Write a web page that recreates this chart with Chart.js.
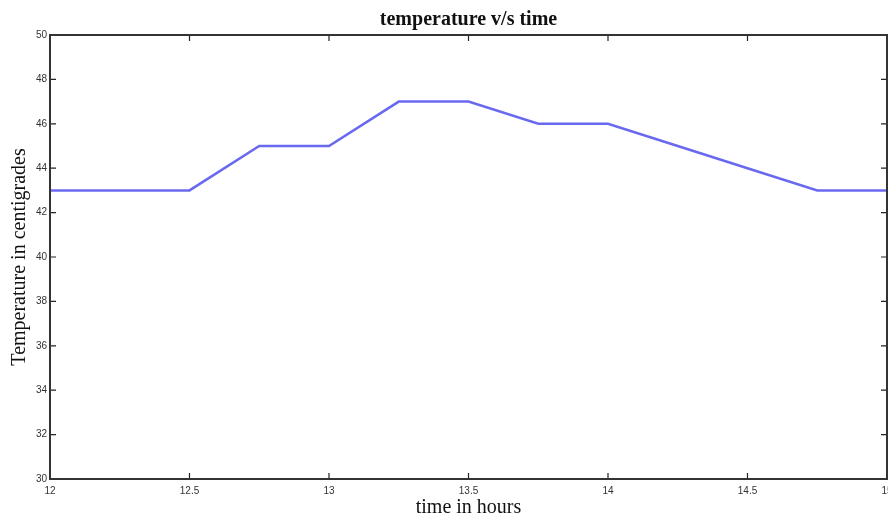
<!DOCTYPE html>
<html>
<head>
<meta charset="utf-8">
<script src="https://cdn.jsdelivr.net/npm/chart.js@4"></script>
<style>
  html, body { margin: 0; padding: 0; background: #fff; }
  #wrap { width: 888px; height: 517px; }
</style>
</head>
<body>
<div id="wrap"><canvas id="tempChart" width="888" height="517"></canvas></div>
<script>
// ── Data ────────────────────────────────────────────────────
const hours = [12, 12.25, 12.5, 12.75, 13, 13.25, 13.5, 13.75, 14, 14.25, 14.5, 14.75, 15];
const temps = [43, 43,    43,   45,    45, 47,    47,   46,    46, 45,    44,   43,    43];

const xTicks = [12, 12.5, 13, 13.5, 14, 14.5, 15];
const yTicks = [30, 32, 34, 36, 38, 40, 42, 44, 46, 48, 50];

// Box round the plot plus inward tick marks (MATLAB style)
const boxPlugin = {
  id: 'box',
  afterDatasetsDraw(chart) {
    const { ctx, chartArea: a, scales: { x, y } } = chart;
    const len = 6;
    ctx.save();
    ctx.strokeStyle = '#222';
    ctx.lineWidth = 1.2;
    ctx.beginPath();
    xTicks.forEach(v => {
      const px = x.getPixelForValue(v);
      ctx.moveTo(px, a.bottom); ctx.lineTo(px, a.bottom - len);
      ctx.moveTo(px, a.top);    ctx.lineTo(px, a.top + len);
    });
    yTicks.forEach(v => {
      const py = y.getPixelForValue(v);
      ctx.moveTo(a.left, py);  ctx.lineTo(a.left + len, py);
      ctx.moveTo(a.right, py); ctx.lineTo(a.right - len, py);
    });
    ctx.stroke();
    ctx.lineWidth = 2;
    ctx.strokeStyle = '#333';
    ctx.strokeRect(a.left, a.top, a.right - a.left, a.bottom - a.top);
    ctx.restore();
  }
};

const noGrid = { display: true, drawOnChartArea: false, drawTicks: false };

new Chart(document.getElementById('tempChart'), {
  type: 'line',
  data: {
    datasets: [{
      data: hours.map((h, i) => ({ x: h, y: temps[i] })),
      borderColor: 'rgb(105,105,240)',
      borderWidth: 2.5,
      pointRadius: 0,
      tension: 0,
      fill: false
    }]
  },
  options: {
    responsive: false,
    animation: false,
    layout: { padding: { left: 0, right: 1, top: 0, bottom: 0 } },
    plugins: {
      legend: { display: false },
      tooltip: { enabled: false },
      title: {
        display: true,
        fullSize: false,   // centre over the plot, not the canvas
        text: 'temperature v/s time',
        color: '#111',
        font: { family: 'Liberation Serif', size: 20, weight: 'bold' },
        padding: { top: 8, bottom: 3 }
      }
    },
    scales: {
      x: {
        type: 'linear',
        min: 12, max: 15,
        grid: noGrid,
        border: { display: false },
        afterBuildTicks: s => { s.ticks = xTicks.map(v => ({ value: v })); },
        afterFit: s => { s.height = 38; s.paddingLeft = 0; s.paddingRight = 0; },
        ticks: {
          color: '#333',
          padding: 6,
          maxRotation: 0,
          autoSkip: false,
          callback: v => String(v),
          font: { family: 'Liberation Sans', size: 10 }
        },
        title: {
          display: true,
          text: 'time in hours',
          color: '#111',
          font: { family: 'Liberation Serif', size: 20 },
          padding: { top: 0, bottom: -3 }
        }
      },
      y: {
        min: 30, max: 50,
        grid: noGrid,
        border: { display: false },
        afterBuildTicks: s => { s.ticks = yTicks.map(v => ({ value: v })); },
        afterFit: s => { s.width = 50; s.paddingTop = 0; s.paddingBottom = 0; },
        ticks: {
          color: '#333',
          padding: 3,
          autoSkip: false,
          callback: v => String(v),
          font: { family: 'Liberation Sans', size: 10 }
        },
        title: {
          display: true,
          text: 'Temperature in centigrades',
          color: '#111',
          font: { family: 'Liberation Serif', size: 20 },
          padding: { top: 8, bottom: 0 }
        }
      }
    }
  },
  plugins: [boxPlugin]
});
</script>
</body>
</html>
